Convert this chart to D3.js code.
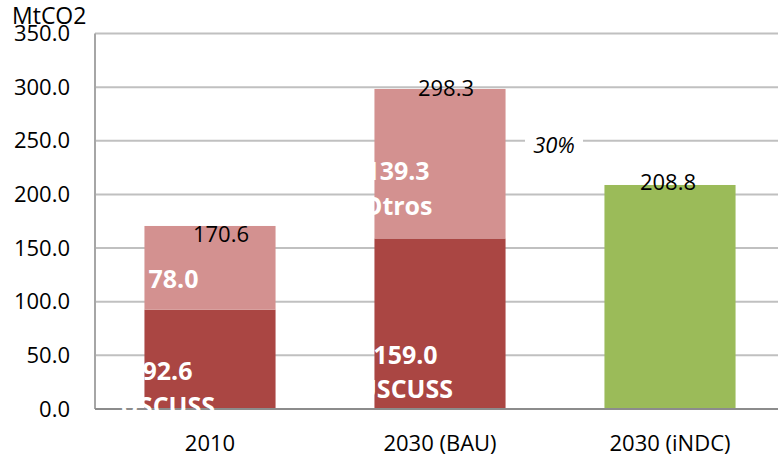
<!DOCTYPE html>
<html><head><meta charset="utf-8">
<script src="https://cdn.jsdelivr.net/npm/d3@7/dist/d3.min.js"></script>
<style>body{margin:0;background:#fff}svg{display:block}</style>
</head><body><svg id="c" width="778" height="458"></svg>
<script>
const categories = ["2010", "2030 (BAU)", "2030 (iNDC)"];
const uscuss = [92.6, 159.0, 0];
const otros = [78.0, 139.3, 0];
const indc = [0, 0, 208.8];
const totals = [170.6, 298.3, 208.8];
const yTicks = [0, 50, 100, 150, 200, 250, 300, 350];
const unitLabel = "MtCO2";
const reductionLabel = "30%";
const segLabels = [
  {cat: "2010", series: "uscuss", lines: ["92.6", "USCUSS"]},
  {cat: "2010", series: "otros", lines: ["78.0"]},
  {cat: "2030 (BAU)", series: "uscuss", lines: ["159.0", "USCUSS"]},
  {cat: "2030 (BAU)", series: "otros", lines: ["139.3", "Otros"]}
];

// layout
const W = 778, H = 458;
const mLeft = 95, mRight = 785, mTop = 33.5, mBottom = 409;
const font = "'Open Sans', sans-serif";
const colors = {uscuss: "#AA4643", otros: "#D39190", indc: "#9BBB59"};
// [dy, dx] label offsets from segment centre
const segOffsets = {"2010|uscuss": [21, -42.5], "2010|otros": [20.5, -36.5], "2030 (BAU)|uscuss": [40, -34.5], "2030 (BAU)|otros": [16.5, -42.5]};
const totalOffsets = [[11, 16], [6, 7], [-2, 5]];

const svg = d3.select("#c");
const x = d3.scaleBand().domain(categories).range([mLeft, mRight]).paddingInner(0.43).paddingOuter(0.215);
const y = d3.scaleLinear().domain([0, 350]).range([mBottom, mTop]);

// gridlines
svg.append("g").selectAll("line").data(yTicks.filter(d => d > 0)).join("line")
  .attr("x1", mLeft).attr("x2", W).attr("y1", d => y(d)).attr("y2", d => y(d))
  .attr("stroke", "#C0C0C0").attr("stroke-width", 2);

// stacked data
const rows = categories.map((c, i) => ({cat: c, uscuss: uscuss[i], otros: otros[i], indc: indc[i]}));
const stack = d3.stack().keys(["uscuss", "otros", "indc"])(rows);
svg.append("g").selectAll("g").data(stack).join("g")
  .attr("fill", d => colors[d.key])
  .selectAll("rect").data(d => d.filter(p => p[1] - p[0] > 0)).join("rect")
  .attr("x", d => x(d.data.cat)).attr("width", x.bandwidth())
  .attr("y", d => y(d[1])).attr("height", d => y(d[0]) - y(d[1]));

// axes lines
svg.append("line").attr("x1", mLeft).attr("x2", mLeft).attr("y1", mTop).attr("y2", mBottom)
  .attr("stroke", "#A6A6A6").attr("stroke-width", 2);
svg.append("line").attr("x1", mLeft).attr("x2", W).attr("y1", mBottom).attr("y2", mBottom)
  .attr("stroke", "#8C8C8C").attr("stroke-width", 2);

// y tick labels
const yAxis = d3.axisLeft(y).tickValues(yTicks).tickFormat(d3.format(".1f")).tickSize(0).tickPadding(25);
const ya = svg.append("g").attr("transform", `translate(${mLeft},0)`).call(yAxis);
ya.select(".domain").remove();
ya.selectAll("text").attr("font-family", font).attr("font-size", 22).attr("fill", "#000");

// x tick labels
const xAxis = d3.axisBottom(x).tickSize(0).tickPadding(26);
const xa = svg.append("g").attr("transform", `translate(0,${mBottom})`).call(xAxis);
xa.select(".domain").remove();
xa.selectAll("text").attr("font-family", font).attr("font-size", 22).attr("fill", "#000");

// unit label
svg.append("text").attr("x", 12).attr("y", 24).attr("font-family", font).attr("font-size", 23)
  .attr("fill", "#000").text(unitLabel);

// clip for segment labels
svg.append("clipPath").attr("id", "plotclip").append("rect")
  .attr("x", 0).attr("y", mTop).attr("width", W).attr("height", mBottom + 1.5 - mTop);

// segment labels
const lbl = svg.append("g").attr("clip-path", "url(#plotclip)");
segLabels.forEach(s => {
  const i = categories.indexOf(s.cat);
  const base = s.series === "uscuss" ? 0 : uscuss[i];
  const val = s.series === "uscuss" ? uscuss[i] : otros[i];
  const off = segOffsets[s.cat + "|" + s.series];
  const cx = x(s.cat) + x.bandwidth() / 2 + off[1];
  const cy = y(base + val / 2) + off[0];
  const t = lbl.append("text").attr("font-family", font).attr("font-size", 25).attr("font-weight", "bold")
    .attr("fill", "#fff").attr("text-anchor", "middle");
  s.lines.forEach((ln, k) => t.append("tspan").attr("x", cx).attr("y", cy + k * 34.5).text(ln));
});

// totals
svg.append("g").selectAll("text").data(totals).join("text")
  .attr("x", (d, i) => x(categories[i]) + x.bandwidth() / 2 + totalOffsets[i][0])
  .attr("y", (d, i) => y(d) + totalOffsets[i][1])
  .attr("text-anchor", "middle").attr("font-family", font).attr("font-size", 22).attr("fill", "#000")
  .text(d => d3.format(".1f")(d));

// reduction label
const midX = (x(categories[1]) + x.bandwidth() + x(categories[2])) / 2;
svg.append("rect").attr("x", midX - 30).attr("y", y(250) - 4).attr("width", 58).attr("height", 8).attr("fill", "#fff");
svg.append("text").attr("x", midX - 1).attr("y", y(250) + 12).attr("text-anchor", "middle")
  .attr("font-family", font).attr("font-size", 22).attr("font-style", "italic").attr("fill", "#000")
  .text(reductionLabel);
</script></body></html>
